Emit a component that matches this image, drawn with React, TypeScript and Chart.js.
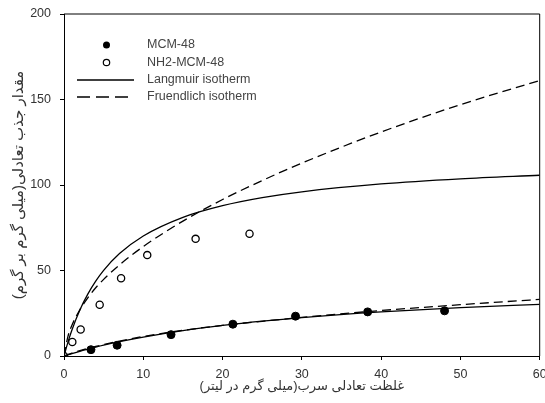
import { useEffect, useRef } from 'react';
import { Chart, registerables } from 'chart.js';

Chart.register(...registerables);

// Measured points
const mcmX = [3.4, 6.7, 13.5, 21.3, 29.2, 38.3, 48.0];
const mcmY = [3.7, 6.3, 12.5, 18.6, 23.3, 25.8, 26.4];
const nh2X = [0, 1.05, 2.1, 4.5, 7.2, 10.5, 16.6, 23.4];
const nh2Y = [0, 8.2, 15.5, 30, 45.5, 59, 68.5, 71.5];

// Fitted curves
const fitX = [0, 0.5, 1, 2, 3, 4, 5, 7, 10, 15, 20, 25, 30, 40, 50, 60];
const langNH2 = [0, 8.1, 15.2, 26.9, 36.2, 43.8, 50.1, 59.9, 70.2, 81.1, 87.9, 92.6, 96.0, 100.6, 103.6, 105.7];
const freNH2 = [0, 11.5, 18.0, 27.0, 34.0, 39.9, 44.8, 53.3, 64.0, 78.9, 91.5, 102.6, 112.8, 131.0, 147.0, 161.1];
const langMCM = [0, 0.72, 1.42, 2.76, 4.0, 5.2, 6.33, 8.4, 11.1, 14.9, 17.9, 20.4, 22.5, 25.8, 28.3, 30.2];
const freMCM = [0, 0.9, 1.7, 3.1, 4.4, 5.6, 6.7, 8.7, 11.4, 15.0, 17.9, 20.3, 22.6, 26.6, 30.0, 33.1];

const legendLabels = ['MCM-48', 'NH2-MCM-48', 'Langmuir isotherm', 'Fruendlich isotherm'];
const xTitle = 'غلظت تعادلی سرب(میلی گرم در لیتر)';
const yTitle = 'مقدار جذب تعادلی(میلی گرم بر گرم)';
const xMin = 0, xMax = 60, xStep = 10;
const yMin = 0, yMax = 200, yStep = 50;

const FONT = '"Liberation Sans", Arial, "DejaVu Sans", sans-serif';
const TXT = '#333333';

const pts = (xs: number[], ys: number[]) => xs.map((x, i) => ({ x, y: ys[i] }));

export default function App() {
  const ref = useRef<HTMLCanvasElement>(null);
  useEffect(() => {
    if (!ref.current) return;
    const framePlugin = {
      id: 'frame',
      afterDraw(chart: any) {
        const { ctx, chartArea: a } = chart;
        ctx.save();
        ctx.strokeStyle = '#000';
        ctx.lineWidth = 1;
        ctx.beginPath();
        ctx.moveTo(a.left, a.top);
        ctx.lineTo(a.right, a.top);
        ctx.lineTo(a.right, a.bottom);
        ctx.stroke();
        // legend
        const symX = 106.5;
        const lineX0 = 77, lineX1 = 134;
        const textX = 147;
        const rows = [45, 62.5, 80, 97];
        ctx.font = `12.5px ${FONT}`;
        ctx.fillStyle = '#444';
        ctx.textBaseline = 'middle';
        ctx.textAlign = 'left';
        legendLabels.forEach((t, i) => ctx.fillText(t, textX, rows[i]));
        // markers
        ctx.fillStyle = '#000';
        ctx.beginPath();
        ctx.arc(symX, rows[0], 3.5, 0, Math.PI * 2);
        ctx.fill();
        ctx.fillStyle = '#fff';
        ctx.beginPath();
        ctx.arc(symX, rows[1], 3.2, 0, Math.PI * 2);
        ctx.fill();
        ctx.lineWidth = 1.2;
        ctx.stroke();
        ctx.lineWidth = 1.3;
        ctx.beginPath();
        ctx.moveTo(lineX0, rows[2]);
        ctx.lineTo(lineX1, rows[2]);
        ctx.stroke();
        ctx.setLineDash([13, 6]);
        ctx.beginPath();
        ctx.moveTo(lineX0, rows[3]);
        ctx.lineTo(lineX1, rows[3]);
        ctx.stroke();
        ctx.restore();
      },
    };
    const lineDs = (data: number[], dashed: boolean) => ({
      type: 'line' as const,
      data: pts(fitX, data),
      borderColor: '#000',
      borderWidth: 1.3,
      borderDash: dashed ? [9, 5] : [],
      pointRadius: 0,
      fill: false,
      showLine: true,
      cubicInterpolationMode: 'monotone' as const,
    });
    const chart = new Chart(ref.current, {
      type: 'scatter',
      data: {
        datasets: [
          lineDs(langNH2, false),
          lineDs(freNH2, true),
          lineDs(langMCM, false),
          lineDs(freMCM, true),
          {
            label: legendLabels[0],
            data: pts(mcmX, mcmY),
            pointRadius: 4,
            pointBackgroundColor: '#000',
            pointBorderColor: '#000',
            pointBorderWidth: 1,
          },
          {
            label: legendLabels[1],
            data: pts(nh2X, nh2Y),
            pointRadius: 3.6,
            pointBackgroundColor: '#fff',
            pointBorderColor: '#000',
            pointBorderWidth: 1.3,
          },
        ] as any,
      },
      options: {
        animation: false,
        responsive: false,
        maintainAspectRatio: false,
        layout: { padding: { top: 14, right: 3.5, left: 0, bottom: 0 } },
        plugins: { legend: { display: false }, tooltip: { enabled: false } },
        scales: {
          x: {
            type: 'linear',
            min: xMin,
            max: xMax,
            ticks: { stepSize: xStep, color: TXT, font: { family: FONT, size: 12.5 }, padding: 7, maxRotation: 0 },
            grid: { drawOnChartArea: false, drawTicks: true, tickLength: 4, color: '#000' },
            border: { color: '#000', width: 1 },
            title: { display: true, text: xTitle, color: TXT, font: { family: FONT, size: 13 }, padding: { top: 4, bottom: 9 } },
            afterFit(scale: any) {
              scale.height = 47;
              scale.paddingLeft = 0;
              scale.paddingRight = 0;
            },
          },
          y: {
            type: 'linear',
            min: yMin,
            max: yMax,
            ticks: { stepSize: yStep, color: TXT, font: { family: FONT, size: 12.5 }, padding: 9 },
            grid: { drawOnChartArea: false, drawTicks: true, tickLength: 4, color: '#000' },
            border: { color: '#000', width: 1 },
            title: { display: true, text: yTitle, color: TXT, font: { family: FONT, size: 15 }, padding: { top: 10, bottom: 4 } },
            afterFit(scale: any) {
              scale.width = 64;
              scale.paddingTop = 0;
              scale.paddingBottom = 0;
            },
          },
        },
      },
      plugins: [framePlugin],
    });
    return () => chart.destroy();
  }, []);
  return (
    <div style={{ position: 'fixed', left: 0, top: 0, width: 545, height: 403, background: '#fff' }}>
      <canvas ref={ref} width={545} height={403} style={{ width: 545, height: 403, display: 'block' }} />
    </div>
  );
}
